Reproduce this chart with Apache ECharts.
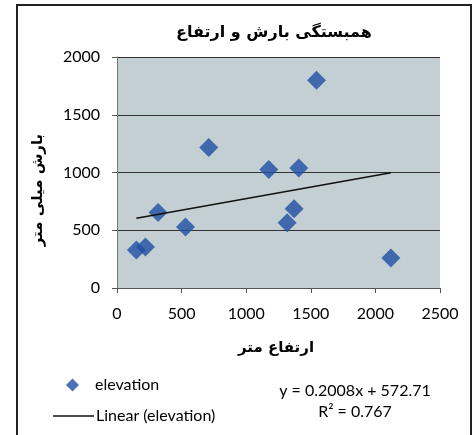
<!DOCTYPE html>
<html>
<head>
<meta charset="utf-8">
<script src="https://cdn.jsdelivr.net/npm/echarts@6/dist/echarts.min.js"></script>
<style>html,body{margin:0;padding:0;background:#fff}#c{width:472px;height:435px}</style>
</head>
<body>
<div id="c"></div>
<script>
var elevation = [150, 220, 318, 530, 710, 1175, 1407, 1371, 1317, 1544, 2120];
var precipitation = [330, 355, 653, 528, 1216, 1025, 1039, 687, 566, 1798, 260];
var trendX = [150, 2120];
var trendY = [603, 998];
var xTicks = [0, 500, 1000, 1500, 2000, 2500];
var yTicks = [0, 500, 1000, 1500, 2000];
var titleText = 'همبستگی بارش و ارتفاع';
var xTitle = 'ارتفاع متر';
var yTitle = 'بارش میلی متر';
var eqText = ['y = 0.2008x + 572.71', 'R² = 0.767'];

var chart = echarts.init(document.getElementById('c'), null, {renderer: 'canvas'});
var lat = 'Lato, "Open Sans", sans-serif';
var fa = '"DejaVu Sans", sans-serif';
function plain(v) { return String(v); }
chart.setOption({
  animation: false,
  backgroundColor: '#fff',
  title: {
    text: titleText, left: 269, top: 20, textAlign: 'center',
    textStyle: {fontFamily: fa, fontWeight: 'bold', fontSize: 16, color: '#000'}
  },
  grid: {left: 117, top: 57, width: 323, height: 231, show: true,
    backgroundColor: '#c4cfd4', borderWidth: 0},
  xAxis: {
    type: 'value', min: xTicks[0], max: xTicks[xTicks.length - 1], interval: 500,
    axisLine: {show: true, lineStyle: {color: '#555', width: 1}},
    axisTick: {show: true, length: 5, lineStyle: {color: '#555'}},
    splitLine: {show: false},
    axisLabel: {margin: 18, fontFamily: lat, fontSize: 16, color: '#000', formatter: plain}
  },
  yAxis: {
    type: 'value', min: yTicks[0], max: yTicks[yTicks.length - 1], interval: 500,
    axisLine: {show: true, lineStyle: {color: '#777', width: 1}},
    axisTick: {show: true, length: 5, lineStyle: {color: '#555'}},
    splitLine: {show: true, lineStyle: {color: '#333', width: 1}},
    axisLabel: {margin: 17, fontFamily: lat, fontSize: 16, color: '#000', formatter: plain}
  },
  legend: [{
    data: [{name: 'elevation', icon: 'diamond'}],
    orient: 'vertical', left: 66, top: 377, padding: 0, itemWidth: 13, itemHeight: 13,
    textStyle: {fontFamily: lat, fontSize: 16, color: '#000', padding: [0, 0, 0, 11]}
  }, {
    data: [{name: 'Linear (elevation)', icon: 'rect'}],
    orient: 'vertical', left: 53, top: 408, padding: 0, itemWidth: 41, itemHeight: 1.5,
    textStyle: {fontFamily: lat, fontSize: 16, color: '#000', padding: [0, 0, 0, -3]}
  }],
  series: [{
    name: 'elevation', type: 'scatter', symbol: 'diamond', symbolSize: [19, 19],
    itemStyle: {color: '#1f4fa3'},
    data: elevation.map(function (x, i) { return [x, precipitation[i]]; }),
    z: 3
  }, {
    name: 'Linear (elevation)', type: 'line', showSymbol: false, symbol: 'none',
    lineStyle: {color: '#111', width: 1.5}, itemStyle: {color: '#111'},
    data: trendX.map(function (x, i) { return [x, trendY[i]]; }),
    z: 4
  }],
  graphic: [
    {type: 'rect', shape: {x: 17, y: 5, width: 454, height: 445},
      style: {fill: 'none', stroke: '#222', lineWidth: 2}, silent: true},
    {type: 'text', x: 38, y: 190, rotation: Math.PI / 2,
      style: {text: yTitle, font: 'bold 15px "DejaVu Sans"', fill: '#000', textAlign: 'center', textVerticalAlign: 'middle'}},
    {type: 'text', x: 276, y: 348,
      style: {text: xTitle, font: 'bold 15px "DejaVu Sans"', fill: '#000', textAlign: 'center', textVerticalAlign: 'middle'}},
    {type: 'text', x: 355, y: 391,
      style: {text: eqText[0], font: '16px Lato', fill: '#000', textAlign: 'center', textVerticalAlign: 'middle'}},
    {type: 'text', x: 355, y: 412,
      style: {text: eqText[1], font: '16px Lato', fill: '#000', textAlign: 'center', textVerticalAlign: 'middle'}}
  ]
});
</script>
</body>
</html>
